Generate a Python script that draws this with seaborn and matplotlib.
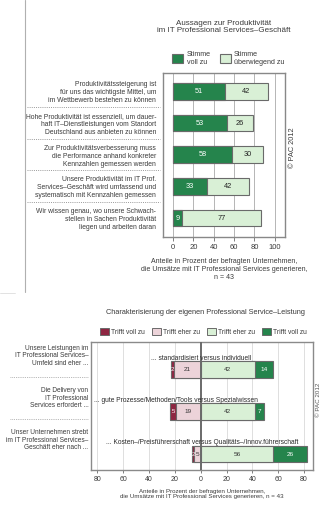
import numpy as np
import matplotlib
matplotlib.use("Agg")
import matplotlib.pyplot as plt
import seaborn as sns
from matplotlib.patches import Patch
from matplotlib.lines import Line2D

# ---------------- data: top chart ----------------
top_statements = [
    "Produktivitätssteigerung ist\nfür uns das wichtigste Mittel, um\nim Wettbewerb bestehen zu können",
    "Hohe Produktivität ist essenziell, um dauer-\nhaft IT–Dienstleistungen vom Standort\nDeutschland aus anbieten zu können",
    "Zur Produktivitätsverbesserung muss\ndie Performance anhand konkreter\nKennzahlen gemessen werden",
    "Unsere Produktivität im IT Prof.\nServices–Geschäft wird umfassend und\nsystematisch mit Kennzahlen gemessen",
    "Wir wissen genau, wo unsere Schwach-\nstellen in Sachen Produktivität\nliegen und arbeiten daran",
]
top_voll = [51, 53, 58, 33, 9]
top_ueberwiegend = [42, 26, 30, 42, 77]
top_ticks = [0, 20, 40, 60, 80, 100]
top_legend = ["Stimme\nvoll zu", "Stimme\nüberwiegend zu"]
top_title = "Aussagen zur Produktivität\nim IT Professional Services–Geschäft"
top_xlabel = ("Anteile in Prozent der befragten Unternehmen,\n"
              "die Umsätze mit IT Professional Services generieren,\nn = 43")

# ---------------- data: bottom chart ----------------
bottom_questions = [
    "Unsere Leistungen im\nIT Professional Services–\nUmfeld sind eher ...",
    "Die Delivery von\nIT Professional\nServices erfordert ...",
    "Unser Unternehmen strebt\nim IT Professional Services–\nGeschäft eher nach ...",
]
bottom_contrasts = [
    "... standardisiert versus individuell",
    "... gute Prozesse/Methoden/Tools versus Spezialwissen",
    "... Kosten–/Preisführerschaft versus Qualitäts–/Innov.führerschaft",
]
contrast_xpos = [0, -19, 1]
left_voll = [2, 5, 2]
left_eher = [21, 19, 5]
right_eher = [42, 42, 56]
right_voll = [14, 7, 26]
bottom_ticks = [-80, -60, -40, -20, 0, 20, 40, 60, 80]
bottom_ticklabels = ["80", "60", "40", "20", "0", "20", "40", "60", "80"]
bottom_legend = ["Trifft voll zu", "Trifft eher zu", "Trifft eher zu", "Trifft voll zu"]
bottom_title = "Charakterisierung der eigenen Professional Service–Leistung"
bottom_xlabel = ("Anteile in Prozent der befragten Unternehmen,\n"
                 "die Umsätze mit IT Professional Services generieren, n = 43")
copyright_text = "© PAC 2012"

# ---------------- styling ----------------
sns.set_style("white")
plt.rcParams["font.family"] = ["Liberation Sans", "DejaVu Sans"]
TXT = "#3a3a3a"
EDGE = "#6a6a6a"
DKGREEN = "#25844c"
LTGREEN = "#d9f0d6"
DKRED = "#8e2642"
PINK = "#ecd3d9"

W, H = 333, 508
fig = plt.figure(figsize=(W / 100, H / 100), dpi=100)
fig.patch.set_facecolor("white")


def px_axes(left, top, right, bottom):
    return fig.add_axes([left / W, 1 - bottom / H, (right - left) / W, (bottom - top) / H])


# page frame line of the upper panel
fig.add_artist(Line2D([25 / W, 25 / W], [1, 1 - 292 / H], color="#b0b0b0", lw=0.8))
fig.add_artist(Line2D([0, 15 / W], [1 - 293 / H, 1 - 293 / H], color="#dddddd", lw=0.6))

# ================= TOP CHART =================
ax1 = px_axes(163, 73, 285, 237)
totals = np.array(top_voll) + np.array(top_ueberwiegend)
sns.barplot(x=totals, y=top_statements, orient="h", color=LTGREEN, saturation=1,
            edgecolor=EDGE, linewidth=0.8, width=0.52, errorbar=None, ax=ax1, zorder=3)
sns.barplot(x=top_voll, y=top_statements, orient="h", color=DKGREEN, saturation=1,
            edgecolor=EDGE, linewidth=0.8, width=0.52, errorbar=None, ax=ax1, zorder=3)
ax1.set_xlim(-9.8, 110)
ax1.set_ylim(4.6, -0.58)
ax1.set_xticks(top_ticks)
ax1.set_xticklabels([str(t) for t in top_ticks], fontsize=5.5, color=TXT)
ax1.tick_params(axis="x", length=3, width=0.6, color=EDGE, pad=2, bottom=True)
ax1.tick_params(axis="y", length=0, pad=5)
ax1.set_yticks(range(len(top_statements)))
ax1.set_yticklabels(top_statements, fontsize=4.85, color=TXT, linespacing=1.2, ha="right")
for x in top_ticks:
    ax1.axvline(x, color="#b5b5b5", lw=0.7, zorder=1)
for s in ax1.spines.values():
    s.set_color("#888888")
    s.set_linewidth(1.0)
ax1.set_xlabel(top_xlabel, fontsize=5.0, color=TXT, linespacing=1.25, labelpad=5)
ax1.set_ylabel("")
for i, (a, b) in enumerate(zip(top_voll, top_ueberwiegend)):
    ax1.text(a / 2, i, str(a), ha="center", va="center", fontsize=5.3, color="white", zorder=5)
    ax1.text(a + b / 2, i, str(b), ha="center", va="center", fontsize=5.3, color="#222222", zorder=5)
# separators between statements
for k in range(len(top_statements) - 1):
    ypx = 91 + (k + 0.5) * 31.7
    fig.add_artist(Line2D([27 / W, 160 / W], [1 - ypx / H, 1 - ypx / H],
                          color="#9a9a9a", lw=0.7, ls=(0, (1, 1.2))))

h1 = [Patch(facecolor=DKGREEN, edgecolor=EDGE, lw=0.8),
      Patch(facecolor=LTGREEN, edgecolor=EDGE, lw=0.8)]
fig.legend(h1, top_legend, loc="center left", bbox_to_anchor=(166 / W, 1 - 58 / H),
           ncol=2, frameon=False, fontsize=5.1, handlelength=1.5, handleheight=1.6,
           handletextpad=0.5, columnspacing=1.3, labelcolor=TXT)
fig.text(224 / W, 1 - 27 / H, top_title, ha="center", va="center", fontsize=5.8,
         color=TXT, linespacing=1.15)
fig.text(293 / W, 1 - 148 / H, copyright_text, rotation=90, ha="center", va="center",
         fontsize=5.3, color=TXT)

# ================= BOTTOM CHART =================
ax2 = px_axes(91, 342, 313, 470)
neg_total = -(np.array(left_voll) + np.array(left_eher))
neg_eher = -np.array(left_eher)
pos_total = np.array(right_eher) + np.array(right_voll)
pos_eher = np.array(right_eher)
common = dict(y=bottom_questions, orient="h", saturation=1, edgecolor=EDGE, linewidth=0.8,
              width=0.4, errorbar=None, ax=ax2, zorder=3)
sns.barplot(x=neg_total, color=DKRED, **common)
sns.barplot(x=neg_eher, color=PINK, **common)
sns.barplot(x=pos_total, color=DKGREEN, **common)
sns.barplot(x=pos_eher, color=LTGREEN, **common)
ax2.set_xlim(-85, 87)
ax2.set_ylim(2.38, -0.66)
ax2.set_xticks(bottom_ticks)
ax2.set_xticklabels(bottom_ticklabels, fontsize=5, color=TXT)
ax2.tick_params(axis="x", length=2.5, width=0.6, color=EDGE, pad=2, bottom=True)
ax2.set_yticks([])
ax2.set_ylabel("")
for x in bottom_ticks:
    if x != 0:
        ax2.axvline(x, color="#dedede", lw=0.7, zorder=1)
ax2.axvline(0, color="#6a6a6a", lw=1.4, zorder=4)
for s in ax2.spines.values():
    s.set_color("#8a8a8a")
    s.set_linewidth(1.0)
ax2.set_xlabel(bottom_xlabel, fontsize=4.4, color=TXT, linespacing=1.15, labelpad=4)

for i in range(len(bottom_questions)):
    lv, le, re, rv = left_voll[i], left_eher[i], right_eher[i], right_voll[i]
    ax2.text(-(le + lv / 2), i, str(lv), ha="center", va="center", fontsize=4.3,
             color="white", zorder=5)
    ax2.text(-le / 2, i, str(le), ha="center", va="center", fontsize=4.6,
             color="#333333", zorder=5)
    ax2.text(re / 2, i, str(re), ha="center", va="center", fontsize=4.6,
             color="#333333", zorder=5)
    ax2.text(re + rv / 2, i, str(rv), ha="center", va="center", fontsize=4.6,
             color="white", zorder=5)
    ax2.text(contrast_xpos[i], i - 0.27, bottom_contrasts[i], ha="center", va="center",
             fontsize=4.8, color="#2a2a2a", zorder=6)
    ax2.text(-0.012, i - 0.33, bottom_questions[i], transform=ax2.get_yaxis_transform(),
             ha="right", va="center", fontsize=4.7, color=TXT, linespacing=1.05)
for k in range(len(bottom_questions) - 1):
    ypx = 377 + k * 42
    fig.add_artist(Line2D([10 / W, 88 / W], [1 - ypx / H, 1 - ypx / H],
                          color="#a0a0a0", lw=0.6, ls=(0, (1, 1.2))))

h2 = [Patch(facecolor=c, edgecolor=EDGE, lw=0.7) for c in (DKRED, PINK, LTGREEN, DKGREEN)]
fig.legend(h2, bottom_legend, loc="center left", bbox_to_anchor=(94 / W, 1 - 332 / H),
           ncol=4, frameon=False, fontsize=4.8, handlelength=1.3, handleheight=1.3,
           handletextpad=0.4, columnspacing=1.0, labelcolor=TXT)
fig.text(205 / W, 1 - 312 / H, bottom_title, ha="center", va="center", fontsize=5.3,
         color=TXT)
fig.text(319 / W, 1 - 400 / H, copyright_text, rotation=90, ha="center", va="center",
         fontsize=4.5, color="#555555")

fig.savefig("out.png", dpi=100, facecolor="white")
